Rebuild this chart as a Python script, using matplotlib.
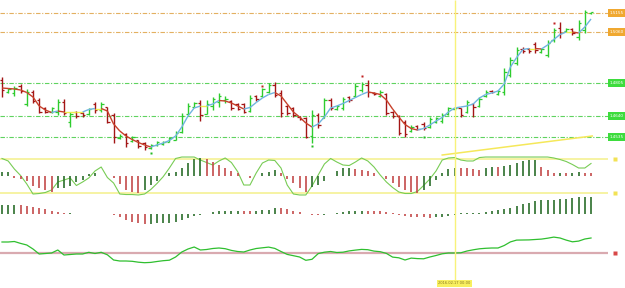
import numpy as np
import matplotlib
matplotlib.use('Agg')
import matplotlib.pyplot as plt
from matplotlib.collections import LineCollection

# --- price bars (one bar per session) ---
opens = [1.4820, 1.4760, 1.4755, 1.4790, 1.4700, 1.4760, 1.4720, 1.4680, 1.4660, 1.4660,
         1.4710, 1.4610, 1.4660, 1.4655, 1.4650, 1.4700, 1.4670, 1.4685, 1.4645, 1.4530,
         1.4550, 1.4515, 1.4520, 1.4505, 1.4480, 1.4495, 1.4500, 1.4510, 1.4520, 1.4560,
         1.4650, 1.4685, 1.4705, 1.4650, 1.4690, 1.4710, 1.4720, 1.4715, 1.4700, 1.4700,
         1.4665, 1.4740, 1.4740, 1.4760, 1.4795, 1.4755, 1.4690, 1.4680, 1.4635, 1.4630,
         1.4540, 1.4645, 1.4630, 1.4720, 1.4675, 1.4680, 1.4735, 1.4740, 1.4770, 1.4795,
         1.4755, 1.4740, 1.4750, 1.4660, 1.4640, 1.4610, 1.4565, 1.4590, 1.4600, 1.4585,
         1.4610, 1.4615, 1.4650, 1.4675, 1.4680, 1.4660, 1.4700, 1.4690, 1.4740, 1.4765,
         1.4750, 1.4760, 1.4845, 1.4905, 1.4975, 1.4975, 1.5000, 1.4960, 1.4945, 1.5020,
         1.5080, 1.5065, 1.5075, 1.5035, 1.5070, 1.5155]
highs = [1.4835, 1.4780, 1.4790, 1.4800, 1.4775, 1.4770, 1.4730, 1.4685, 1.4685, 1.4725,
         1.4725, 1.4660, 1.4665, 1.4660, 1.4680, 1.4710, 1.4710, 1.4685, 1.4655, 1.4550,
         1.4555, 1.4540, 1.4520, 1.4510, 1.4500, 1.4515, 1.4515, 1.4535, 1.4565, 1.4655,
         1.4705, 1.4710, 1.4720, 1.4720, 1.4735, 1.4755, 1.4740, 1.4720, 1.4705, 1.4705,
         1.4745, 1.4745, 1.4780, 1.4805, 1.4810, 1.4770, 1.4695, 1.4685, 1.4640, 1.4635,
         1.4670, 1.4655, 1.4730, 1.4730, 1.4695, 1.4735, 1.4740, 1.4805, 1.4810, 1.4820,
         1.4760, 1.4770, 1.4755, 1.4665, 1.4645, 1.4620, 1.4595, 1.4595, 1.4610, 1.4635,
         1.4635, 1.4655, 1.4685, 1.4685, 1.4680, 1.4720, 1.4705, 1.4735, 1.4770, 1.4770,
         1.4770, 1.4880, 1.4935, 1.4985, 1.4985, 1.4980, 1.5010, 1.4980, 1.5020, 1.5080,
         1.5110, 1.5080, 1.5080, 1.5120, 1.5170, 1.5160]
lows = [1.4735, 1.4755, 1.4740, 1.4755, 1.4690, 1.4705, 1.4655, 1.4655, 1.4655, 1.4645,
        1.4645, 1.4585, 1.4630, 1.4635, 1.4645, 1.4655, 1.4660, 1.4605, 1.4505, 1.4525,
        1.4485, 1.4510, 1.4480, 1.4470, 1.4475, 1.4490, 1.4495, 1.4510, 1.4520, 1.4555,
        1.4645, 1.4685, 1.4615, 1.4650, 1.4670, 1.4685, 1.4705, 1.4670, 1.4670, 1.4655,
        1.4660, 1.4715, 1.4735, 1.4755, 1.4735, 1.4635, 1.4645, 1.4635, 1.4620, 1.4530,
        1.4505, 1.4580, 1.4630, 1.4670, 1.4670, 1.4670, 1.4710, 1.4735, 1.4760, 1.4735,
        1.4745, 1.4735, 1.4645, 1.4630, 1.4545, 1.4535, 1.4560, 1.4570, 1.4570, 1.4580,
        1.4605, 1.4605, 1.4645, 1.4670, 1.4635, 1.4655, 1.4635, 1.4685, 1.4735, 1.4755,
        1.4745, 1.4745, 1.4835, 1.4895, 1.4955, 1.4955, 1.4955, 1.4955, 1.4935, 1.5010,
        1.5030, 1.5060, 1.5045, 1.5020, 1.5055, 1.5150]
closes = [1.4770, 1.4775, 1.4780, 1.4765, 1.4760, 1.4715, 1.4660, 1.4660, 1.4680, 1.4710,
          1.4655, 1.4650, 1.4640, 1.4645, 1.4675, 1.4670, 1.4700, 1.4610, 1.4535, 1.4540,
          1.4505, 1.4535, 1.4490, 1.4485, 1.4495, 1.4510, 1.4510, 1.4530, 1.4555, 1.4640,
          1.4690, 1.4705, 1.4645, 1.4700, 1.4725, 1.4740, 1.4725, 1.4680, 1.4675, 1.4660,
          1.4730, 1.4725, 1.4775, 1.4795, 1.4745, 1.4655, 1.4655, 1.4645, 1.4625, 1.4535,
          1.4645, 1.4595, 1.4720, 1.4680, 1.4690, 1.4725, 1.4720, 1.4790, 1.4800, 1.4760,
          1.4750, 1.4760, 1.4655, 1.4640, 1.4555, 1.4550, 1.4585, 1.4575, 1.4580, 1.4625,
          1.4630, 1.4645, 1.4680, 1.4680, 1.4645, 1.4710, 1.4685, 1.4725, 1.4760, 1.4760,
          1.4765, 1.4860, 1.4920, 1.4970, 1.4965, 1.4965, 1.4970, 1.4975, 1.5005, 1.5070,
          1.5055, 1.5075, 1.5055, 1.5105, 1.5160, 1.5160]
ma_line = [1.4780, 1.47775, 1.4775, 1.4770, 1.47575, 1.4735, 1.4690, 1.4670, 1.46575, 1.4665,
           1.4660, 1.4660, 1.4660, 1.4660, 1.46725, 1.46775, 1.46775, 1.4665, 1.4600, 1.4565,
           1.4540, 1.45225, 1.45075, 1.4495, 1.4485, 1.4495, 1.4505, 1.45175, 1.4540, 1.4585,
           1.4640, 1.4680, 1.4690, 1.4690, 1.4700, 1.47175, 1.4715, 1.4705, 1.4690, 1.4675,
           1.46825, 1.47075, 1.4730, 1.47475, 1.47575, 1.4740, 1.4700, 1.4660, 1.4635, 1.4605,
           1.4585, 1.4600, 1.4635, 1.4680, 1.4690, 1.47025, 1.47175, 1.47325, 1.47475, 1.4760,
           1.4755, 1.47475, 1.4720, 1.4675, 1.4635, 1.45975, 1.45775, 1.4570, 1.45775, 1.4595,
           1.4615, 1.46325, 1.4660, 1.4680, 1.4685, 1.4690, 1.4700, 1.4730, 1.47475, 1.4755,
           1.4765, 1.4800, 1.4885, 1.49325, 1.49725, 1.49775, 1.49775, 1.4975, 1.4995, 1.50225,
           1.50475, 1.5060, 1.5060, 1.5055, 1.5085, 1.5125]

# fractal marks
frac_up_idx = [42, 58, 89]
frac_up = [1.4790, 1.4840, 1.5105]
frac_dn_idx = [24, 50, 68]
frac_dn = [1.4455, 1.4490, 1.4535]

# horizontal levels
res_levels = [1.5155, 1.5060]
sup_levels = [1.4805, 1.4640, 1.4535]
trend_idx = [71, 95.2]
trend_val = [1.4445, 1.4540]

# oscillator panel: stochastic line + accelerator histogram
stoch = [80.9, 76.5, 62.3, 50.9, 35.9, 18.2, 19.1, 20.9, 25.3, 39.4,
         42.9, 46.5, 33.2, 39.4, 46.5, 58.8, 65.9, 47.3, 37.6, 18.2,
         17.3, 17.3, 16.5, 18.2, 26.2, 36.8, 48.8, 64.1, 80.9, 83.5,
         83.5, 83.5, 78.2, 73.8, 69.4, 76.5, 81.8, 73.8, 57.9, 34.1,
         34.1, 55.3, 72.9, 78.2, 77.4, 64.1, 34.1, 18.2, 16.5, 16.5,
         32.4, 51.8, 71.2, 80.9, 74.7, 69.4, 68.5, 74.7, 81.8, 76.5,
         65.9, 51.8, 39.4, 29.7, 21.8, 19.1, 19.1, 22.6, 33.2, 44.7,
         58.8, 78.2, 81.8, 82.6, 78.2, 76.5, 76.5, 82.6, 83.5, 83.5,
         83.5, 83.5, 83.5, 83.5, 83.5, 83.5, 83.5, 83.5, 83.5, 81.8,
         79.1, 75.6, 70.3, 64.1, 64.1, 72.1]
stoch_levels = [80, 20]
accel = [4, 4, -2, -3, -5, -10, -12, -14, -16, -12,
         -12, -10, -6, -4, 2, 3, 0.5, 0.5, -2, -8,
         -14, -16, -17, -14, -9, -5, 0.5, 3, 4, 8,
         13, 17, 18, 17, 14, 11, 8, 5, 3, 0.5,
         -2, 0.5, 3, 4, 6, 3, -3, -7, -12, -16,
         -11, -9, -5, 0.5, 5, 8, 8.3, 7, 6, 5,
         3, 0.5, -3, -7, -11, -14, -16, -17, -14, -10,
         -4, 3, 7, 8, 7.9, 7.8, 7, 6, 8, 9,
         8.8, 10, 11, 13, 15, 16, 16.2, 9, 6, 3,
         3.1, 3, 3.1, 4, 3, 2.9]

# momentum histogram
macd_hist = [9, 9.5, 9.5, 9, 8, 7, 6, 5, 3, 2,
             1, 1, 0.5, 0.5, 0.5, 0.5, 0.5, 0.3, -1, -3,
             -6, -8, -9, -9.5, -9.5, -9, -9, -8.5, -8, -6,
             -4, -2, -1, 0.5, 2, 3, 3.2, 3.3, 3.4, 3.2,
             3, 3.1, 4, 4.2, 6, 5.8, 5, 3, 2, 0.5,
             -1, -1.2, -1, 0.5, 1, 2, 3, 3.2, 3.3, 3.2,
             3.1, 3, 2, 1, -1, -2, -3, -3.2, -3.3, -4,
             -3.2, -3, -2, -1, 1, 1.1, 1.2, 1.3, 2, 3,
             4, 5, 6, 8, 10, 11, 13, 14, 14.2, 14.3,
             15, 15.2, 16, 17, 17.2, 17.4]

# bottom line indicator
rsi = [61, 61, 61.5, 59.6, 58, 54, 49, 49.5, 50, 53,
       48, 48.5, 49, 49, 50.7, 49.5, 50.7, 48.2, 43, 42,
       42, 41.7, 40.8, 40.3, 40.6, 41.5, 42.3, 42.8, 46, 51,
       54, 56, 53, 53.5, 54.5, 55, 54.3, 52.6, 51.5, 51,
       53, 54.5, 55.2, 55.9, 54.6, 51.5, 48.6, 47.3, 46, 42.7,
       43.7, 49.4, 50.8, 51.5, 50.5, 50.8, 52.1, 52.9, 53.6, 53.3,
       51.9, 51.3, 49.6, 45.9, 45.2, 43, 44.9, 44.4, 44.2, 46,
       47.5, 49.2, 50, 50, 50.2, 52, 53.2, 54.2, 54.7, 55,
       55, 57.5, 61.1, 62.9, 63, 63.1, 63.5, 63.9, 64.8, 65.9,
       65, 62.9, 61.2, 61.9, 64, 65]
rsi_level = 50

marker_idx = 73
marker_label = '2016.02.17 00:00'

GREEN = '#2ecc2e'
RED = '#a31515'
XLIM = (-0.32, 100.48)
W, H = 625, 288


def panel(top, bottom):
    ax = fig.add_axes([0, 1 - bottom / H, 1, (bottom - top) / H])
    ax.set_xlim(*XLIM)
    ax.axis('off')
    ax.patch.set_alpha(0)
    return ax


def hist_colors(vals):
    v = np.asarray(vals, dtype=float)
    prev = np.concatenate([[v[0]], v[:-1]])
    return np.where(v >= prev, '#2b6e2b', '#c44a4a')


fig = plt.figure(figsize=(6.25, 2.88), dpi=100)
fig.patch.set_facecolor('white')
x = np.arange(len(closes))

# ---- main price panel ----
ax = panel(0, 157)
ax.set_ylim(1.4435, 1.5220)
for lv in res_levels:
    ax.hlines(lv, XLIM[0], 97.9, colors='#e3b060', lw=0.8, linestyles=(0, (4, 1.5, 1, 1.5)))
    ax.text(99.2, lv, f'{lv:.4f}', fontsize=3.0, color='white', ha='center', va='center',
            bbox=dict(boxstyle='square,pad=0.4', fc='#f0a830', ec='none'))
for lv in sup_levels:
    ax.hlines(lv, XLIM[0], 97.9, colors='#5fd35f', lw=0.8, linestyles=(0, (4, 1.5, 1, 1.5)))
    ax.text(99.2, lv, f'{lv:.4f}', fontsize=3.0, color='white', ha='center', va='center',
            bbox=dict(boxstyle='square,pad=0.4', fc='#3ddc3d', ec='none'))

o = np.array(opens); c = np.array(closes)
cols = np.where(c >= o, GREEN, RED)
ax.vlines(x, lows, highs, colors=cols, lw=1.0)
ax.hlines(o, x - 0.38, x, colors=cols, lw=0.9)
ax.hlines(c, x, x + 0.38, colors=cols, lw=0.9)

# colored moving average
ma = np.array(ma_line)
d = np.diff(ma)
seg_cols = np.where(d > 0.00012, '#6fb4e0', np.where(d < -0.00012, '#c8402a', '#eeee50'))
segs = [[(x[i], ma[i]), (x[i + 1], ma[i + 1])] for i in range(len(ma) - 1)]
ax.add_collection(LineCollection(segs, colors=seg_cols, lw=1.0))

ax.plot(frac_up_idx, frac_up, 's', ms=1.6, color='#c02020', mec='none')
ax.plot(frac_dn_idx, frac_dn, 's', ms=1.6, color='#22bb22', mec='none')
ax.plot(trend_idx, trend_val, color='#f5e85a', lw=1.1, clip_on=False)

# ---- oscillator panel ----
ax1 = panel(153, 199)
ax1.set_ylim(9.4, 90.6)
ax1.hlines(stoch_levels, XLIM[0], 97.7, colors='#f4f08a', lw=1.1)
ax1.plot([98.8] * 2, stoch_levels, 's', ms=3, color='#f2e255', mec='none')
ax1b = panel(153, 199)
ax1b.set_ylim(-23, 23)
ax1b.vlines(x, 0, accel, colors=hist_colors(accel), lw=1.2)
ax1.plot(x, stoch, color='#78cc55', lw=0.8, zorder=5)

# ---- momentum histogram ----
ax2 = panel(196, 232)
ax2.set_ylim(-18, 18)
ax2.vlines(x, 0, macd_hist, colors=hist_colors(macd_hist), lw=1.2)

# ---- bottom line indicator ----
ax3 = panel(230, 266)
ax3.set_ylim(37, 73)
ax3.hlines(rsi_level, XLIM[0], 97.7, colors='#d9aab0', lw=1.6)
ax3.plot([98.8], [rsi_level], 's', ms=3.5, color='#d84848', mec='none')
ax3.plot(x, rsi, color='#2fbf2f', lw=0.9)

# ---- vertical date marker across all panels ----
axo = panel(0, H)
axo.set_ylim(H, 0)
axo.vlines(marker_idx, 0, 280, colors='#f8f27a', lw=1)
axo.text(marker_idx, 283.5, marker_label, fontsize=2.6, color='#8a7a20', ha='center', va='center',
         bbox=dict(boxstyle='square,pad=0.35', fc='#f8f060', ec='none'))

fig.savefig('out.png', dpi=100, facecolor='white')
